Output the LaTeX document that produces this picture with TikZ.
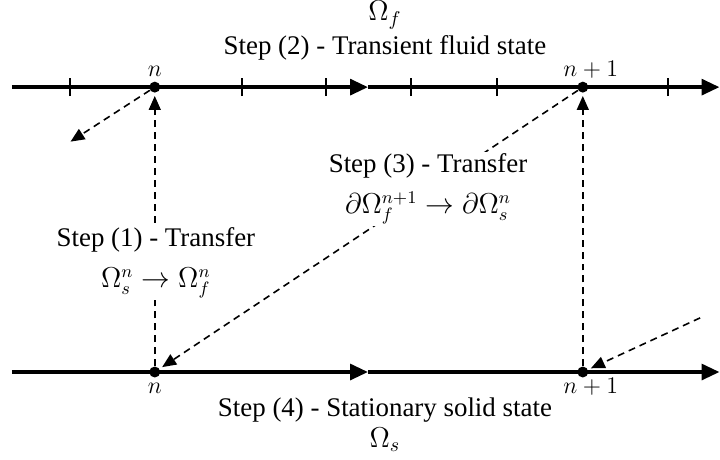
\documentclass[tikz,border=0pt]{standalone}
\usepackage{fontspec}
\setmainfont{Liberation Serif}
\usetikzlibrary{arrows.meta,positioning,calc}

\begin{document}
\begin{tikzpicture}[
  timeline/.style={line width=1.7pt, draw=black},
  midtip/.style={-{Triangle[length=9pt,width=8pt]}},
  instant/.style={circle, fill=black, inner sep=0pt, minimum size=5.5pt},
  transfer/.style={-{Triangle[length=7pt,width=6pt]}, line width=0.8pt,
    dash pattern=on 3.5pt off 2.5pt, shorten >=1.5pt},
  tickmark/.style={line width=0.8pt},
  steplabel/.style={font=\fontsize{13.5}{16}\selectfont, fill=white, inner sep=1pt, align=center}
]
\useasboundingbox (0,0) rectangle (12.7,8.097);

% fluid time line
\coordinate (f0) at (0.21,6.56);
\coordinate (fmid) at (6.49,6.56);
\coordinate (f1) at (12.69,6.56);
\foreach \x in {1.23,4.27,5.75,7.25,8.77,11.78}
  \draw[tickmark] (\x,6.40) -- (\x,6.72);
\draw[timeline, midtip] (f0) -- (fmid);
\draw[timeline, midtip] (fmid) -- (f1);

% solid time line
\coordinate (s0) at (0.21,1.535);
\coordinate (smid) at (6.49,1.535);
\coordinate (s1) at (12.69,1.535);
\draw[timeline, midtip] (s0) -- (smid);
\draw[timeline, midtip] (smid) -- (s1);

\node[instant] (fn)  at (2.73,6.56) {};
\node[instant] (fn1) at (10.28,6.56) {};
\node[instant] (sn)  at (2.73,1.535) {};
\node[instant] (sn1) at (10.28,1.535) {};

\node[font=\large] (fnlab)  at (2.73,6.84) {$n$};
\node[font=\large] (fn1lab) at (10.42,6.86) {$n+1$};
\node[font=\large] (snlab)  at (2.73,1.24) {$n$};
\node[font=\large] (sn1lab) at (10.42,1.27) {$n+1$};

\coordinate (fout) at (1.20,5.57);
\coordinate (sin)  at (12.35,2.49);

% transfers
\draw[transfer] (sn) -- (fn);
\draw[transfer] (sn1) -- (fn1);
\draw[transfer] (fn1) -- (sn);
\draw[transfer] (fn) -- (fout);
\draw[transfer] (sin) -- (sn1);

\node[font=\Large] (omf) at (6.79,7.83) {$\Omega_f$};
\node[steplabel] (step2) at (6.79,7.25) {Step (2) - Transient fluid state};
\node[steplabel] (step3) at (7.55,4.76)
  {Step (3) - Transfer\\[4.5pt] $\partial\Omega_f^{n+1}\rightarrow\partial\Omega_s^n$};
\node[steplabel] (step1) at (2.75,3.46)
  {Step (1) - Transfer\\[4.5pt] $\Omega_s^n\rightarrow\Omega_f^n$};
\node[steplabel] (step4) at (6.79,0.86) {Step (4) - Stationary solid state};
\node[font=\Large] (oms) at (6.79,0.34) {$\Omega_s$};
\end{tikzpicture}
\end{document}
